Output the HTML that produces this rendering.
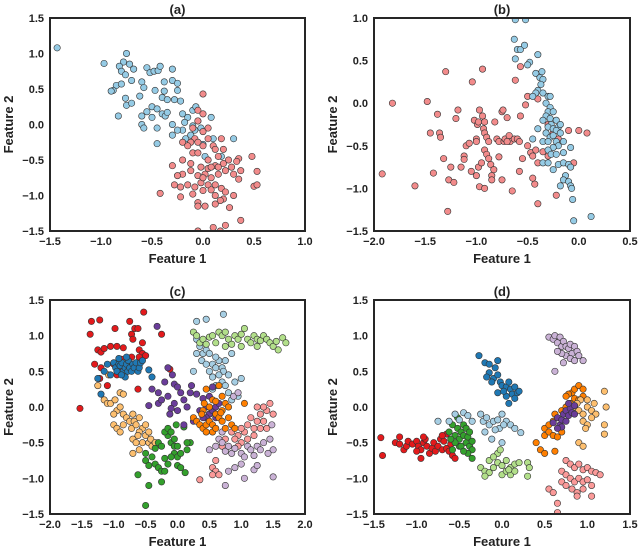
<!DOCTYPE html>
<html><head><meta charset="utf-8"><style>
html,body{margin:0;padding:0;background:#fff;}
svg{display:block;font-family:"Liberation Sans",Arial,sans-serif;}
.tk{font-size:11px;font-weight:bold;fill:#222;}
.lb{font-size:13px;font-weight:bold;fill:#222;}
</style></head><body>
<svg id="chart" width="640" height="549" viewBox="0 0 640 549"></svg>
<script>
// ---- Panel (a) data ----
const aBlue=[[-1.43,1.08],[-0.97,0.86],[-0.75,1.0],[-0.78,0.88],[-0.72,0.85],[-0.82,0.82],[-0.8,0.75],[-0.76,0.7],[-0.68,0.78],[-0.55,0.8],[-0.52,0.73],[-0.48,0.75],[-0.44,0.76],[-0.42,0.82],[-0.3,0.78],[-0.85,0.55],[-0.88,0.48],[-0.9,0.47],[-0.8,0.57],[-0.7,0.62],[-0.6,0.6],[-0.58,0.52],[-0.47,0.48],[-0.38,0.6],[-0.3,0.62],[-0.38,0.47],[-0.25,0.48],[-0.76,0.37],[-0.75,0.27],[-0.7,0.3],[-0.62,0.4],[-0.4,0.38],[-0.35,0.35],[-0.28,0.35],[-0.22,0.33],[-0.5,0.25],[-0.45,0.22],[-0.55,0.18],[-0.6,0.12],[-0.4,0.15],[-0.37,0.12],[-0.35,0.17],[-0.5,0.1],[-0.83,0.12],[-0.6,0.0],[-0.58,-0.05],[-0.45,-0.05],[-0.3,0.0],[-0.2,0.15],[-0.15,0.1],[-0.1,0.2],[-0.07,0.25],[-0.18,0.03],[-0.2,-0.08],[-0.25,-0.08],[-0.3,-0.15],[-0.17,-0.2],[-0.12,-0.15],[-0.08,-0.08],[-0.02,-0.05],[0.0,-0.28],[0.1,-0.2],[0.3,-0.2],[0.18,-0.45],[0.08,0.1],[-0.45,-0.27],[0.02,-0.45],[-0.05,0.05],[-0.1,-0.02],[-0.25,0.58]];
const aRed=[[0.0,0.43],[-0.05,0.2],[0.0,0.15],[-0.05,0.05],[-0.1,-0.05],[0.0,-0.1],[-0.08,-0.2],[-0.12,-0.25],[-0.05,-0.25],[0.0,-0.3],[0.05,-0.2],[-0.2,-0.25],[-0.15,-0.3],[0.1,-0.3],[0.18,-0.2],[0.12,-0.35],[0.2,-0.35],[-0.1,-0.4],[-0.05,-0.4],[0.25,-0.5],[0.35,-0.48],[0.48,-0.45],[0.15,-0.45],[0.05,-0.5],[-0.3,-0.58],[-0.2,-0.5],[-0.12,-0.55],[-0.02,-0.6],[0.05,-0.62],[0.12,-0.58],[0.2,-0.55],[0.28,-0.6],[0.33,-0.52],[0.37,-0.65],[0.53,-0.66],[-0.2,-0.7],[-0.12,-0.65],[-0.05,-0.72],[0.02,-0.7],[0.08,-0.75],[0.15,-0.7],[0.22,-0.65],[0.3,-0.7],[0.35,-0.77],[-0.28,-0.85],[-0.22,-0.88],[-0.15,-0.85],[-0.08,-0.88],[-0.02,-0.82],[0.05,-0.85],[0.12,-0.85],[0.18,-0.9],[0.22,-0.95],[0.5,-0.87],[0.53,-0.85],[-0.42,-0.97],[-0.22,-1.02],[-0.1,-0.98],[0.0,-0.93],[0.08,-0.92],[0.12,-1.0],[0.2,-1.05],[0.3,-1.0],[0.17,-1.07],[-0.05,-1.1],[0.02,-1.15],[0.12,-1.12],[0.26,-1.17],[-0.05,-1.15],[0.37,-1.35],[0.22,-1.42],[0.1,-1.45],[0.17,-1.5],[-0.05,-1.5],[0.05,-0.05],[0.08,-0.6],[0.0,-0.75],[-0.25,-0.72],[0.15,-0.6]];
// ---- Panel (b) data ----
const bBlue=[[-0.62,0.98],[-0.52,0.98],[-0.63,0.75],[-0.6,0.63],[-0.57,0.63],[-0.53,0.68],[-0.4,0.57],[-0.62,0.52],[-0.48,0.48],[-0.5,0.45],[-0.42,0.35],[-0.36,0.37],[-0.38,0.3],[-0.35,0.28],[-0.37,0.22],[-0.4,0.15],[-0.42,0.12],[-0.35,0.12],[-0.3,0.08],[-0.28,0.08],[-0.45,0.08],[-0.32,0.0],[-0.28,-0.05],[-0.3,-0.1],[-0.25,-0.1],[-0.32,-0.15],[-0.28,-0.18],[-0.22,-0.2],[-0.27,-0.25],[-0.3,-0.28],[-0.25,-0.3],[-0.2,-0.28],[-0.22,-0.32],[-0.18,-0.35],[-0.32,-0.35],[-0.28,-0.4],[-0.25,-0.38],[-0.35,-0.45],[-0.3,-0.45],[-0.22,-0.45],[-0.15,-0.45],[-0.2,-0.5],[-0.25,-0.52],[-0.3,-0.55],[-0.27,-0.6],[-0.22,-0.6],[-0.15,-0.58],[-0.08,-0.52],[-0.35,-0.7],[-0.3,-0.7],[-0.2,-0.72],[-0.15,-0.7],[-0.1,-0.72],[-0.08,-0.75],[-0.25,-0.78],[-0.13,-0.85],[-0.15,-0.9],[-0.1,-0.92],[-0.08,-0.97],[-0.18,-0.97],[-0.07,-1.0],[-0.06,-1.13],[-0.05,-1.38],[0.12,-1.33],[-0.45,-0.42],[-0.4,-0.3],[-0.35,-0.2],[-0.18,-0.25]];
const bRed=[[-1.92,-0.83],[-1.82,0.0],[-1.6,-0.97],[-1.48,0.02],[-1.45,-0.35],[-1.42,-0.82],[-1.38,-0.13],[-1.36,-0.35],[-1.35,-0.4],[-1.3,0.37],[-1.32,-0.65],[-1.28,-1.27],[-1.27,-0.9],[-1.25,-0.75],[-1.22,-0.93],[-1.2,-0.18],[-1.18,-0.08],[-1.15,-0.75],[-1.12,-0.62],[-1.12,-0.66],[-1.1,-0.5],[-1.07,-0.47],[-1.05,-0.8],[-1.04,0.25],[-1.02,-0.2],[-1.0,-0.42],[-1.0,-0.45],[-0.99,-0.25],[-0.98,-0.22],[-0.97,-0.98],[-0.98,-0.75],[-0.97,-0.08],[-0.95,-0.7],[-0.94,0.4],[-0.94,-0.15],[-0.93,-0.3],[-0.92,-0.35],[-0.92,-0.22],[-0.92,-0.55],[-0.9,-0.6],[-0.92,-1.0],[-0.9,-0.4],[-0.88,-0.65],[-0.86,-0.72],[-0.85,-0.85],[-0.83,-0.78],[-0.82,-0.22],[-0.8,-0.42],[-0.78,-0.63],[-0.78,-0.45],[-0.75,-0.1],[-0.74,-0.08],[-0.73,-0.45],[-0.75,-0.9],[-0.72,-0.42],[-0.7,-0.17],[-0.68,-0.38],[-0.67,-0.45],[-0.65,-1.03],[-0.63,-0.42],[-0.6,-0.42],[-0.58,-0.45],[-0.58,-0.8],[-0.57,-0.15],[-0.55,-0.65],[-0.62,0.27],[-0.57,0.43],[-0.52,-0.02],[-0.5,0.08],[-0.5,-0.5],[-0.47,-0.58],[-0.45,-0.88],[-0.43,-0.95],[-0.45,-0.62],[-0.42,-0.55],[-0.4,-0.7],[-0.4,0.05],[-0.4,-1.18],[-0.35,-0.57],[-0.3,-0.25],[-0.3,-0.62],[-0.25,-0.35],[-0.22,-1.08],[-0.2,-0.42],[-0.1,-0.32],[0.0,-0.32],[0.08,-0.35],[-0.05,-0.7],[-0.85,-0.9],[-0.7,-0.45],[-1.0,-0.85],[-0.88,-0.45]];
// ---- Panel (c) data ----
const cRed=[[-1.53,-0.02],[-1.37,1.02],[-1.35,1.2],[-1.22,1.22],[-1.3,0.6],[-1.25,0.8],[-1.2,0.77],[-1.2,0.55],[-1.22,0.4],[-1.1,0.3],[-1.15,0.82],[-1.05,0.85],[-0.98,1.1],[-0.95,0.85],[-1.0,0.6],[-0.95,0.45],[-0.9,0.5],[-0.85,0.55],[-0.88,0.67],[-0.85,0.83],[-0.75,1.2],[-0.72,1.02],[-0.7,0.95],[-0.67,1.1],[-0.62,1.1],[-0.6,0.8],[-0.55,0.9],[-0.53,1.33],[-0.55,0.75],[-0.6,0.7],[-0.6,0.6],[-0.72,0.7],[-0.62,0.25],[-0.5,0.72],[-0.25,1.02],[-0.12,0.53]];
const cBlue=[[-1.25,0.4],[-1.2,0.18],[-1.15,0.5],[-1.1,0.6],[-1.05,0.45],[-1.0,0.62],[-0.97,0.55],[-0.95,0.5],[-0.92,0.6],[-0.9,0.58],[-0.87,0.62],[-0.85,0.5],[-0.82,0.55],[-0.8,0.6],[-0.78,0.5],[-0.77,0.65],[-0.75,0.55],[-0.72,0.5],[-0.7,0.6],[-0.68,0.55],[-0.65,0.62],[-0.62,0.5],[-0.6,0.55],[-0.58,0.62],[-0.82,0.42],[-0.88,0.45],[-0.55,0.65],[-0.4,0.42],[-0.45,0.52],[-0.92,0.68],[-0.8,0.7]];
const cLtOrange=[[-1.25,0.3],[-1.15,0.1],[-1.1,0.05],[-1.05,0.05],[-0.98,0.1],[-0.9,0.2],[-0.85,0.18],[-0.95,-0.05],[-0.9,0.0],[-0.85,-0.1],[-0.8,-0.15],[-0.85,-0.25],[-0.75,-0.2],[-0.7,-0.1],[-0.68,-0.2],[-0.72,-0.3],[-0.65,-0.25],[-0.6,-0.15],[-0.55,-0.3],[-0.6,-0.35],[-0.5,-0.25],[-0.5,-0.4],[-0.45,-0.35],[-0.7,-0.45],[-0.65,-0.5],[-0.62,-0.4],[-0.55,-0.5],[-0.45,-0.5],[-0.4,-0.55],[-0.42,-0.45],[-0.35,-0.5],[-1.0,-0.25],[-0.95,-0.3],[-0.9,-0.35],[-0.7,-0.65],[-0.6,-0.6],[-1.08,0.45],[-1.0,-0.1]];
const cGreen=[[-0.5,-0.75],[-0.45,-0.82],[-0.5,-0.65],[-0.4,-0.7],[-0.35,-0.8],[-0.3,-0.85],[-0.25,-0.9],[-0.2,-0.9],[-0.35,-0.58],[-0.3,-0.5],[-0.25,-0.55],[-0.15,-0.4],[-0.1,-0.5],[-0.05,-0.55],[-0.2,-0.35],[-0.15,-0.3],[-0.1,-0.35],[-0.05,-0.45],[0.0,-0.55],[-0.05,-0.65],[0.0,-0.7],[0.05,-0.65],[0.0,-0.82],[0.05,-0.85],[0.12,-0.92],[-0.1,-0.7],[0.2,-0.5],[0.15,-0.5],[0.15,-0.6],[-0.62,-0.95],[-0.45,-1.1],[-0.25,-1.05],[-0.5,-1.38],[-0.02,-0.25],[0.1,-0.28],[-0.2,-0.72],[-0.15,-0.8]];
const cPurple=[[-0.32,1.13],[-0.15,0.55],[-0.08,0.45],[-0.05,0.32],[0.0,0.28],[0.05,0.2],[0.1,0.1],[-0.2,0.35],[-0.3,0.2],[-0.4,0.25],[-0.3,0.05],[-0.45,0.02],[-0.25,0.1],[-0.15,0.15],[-0.05,0.05],[0.0,-0.05],[-0.1,-0.02],[0.15,0.0],[0.2,0.2],[0.22,0.3],[0.3,0.18],[0.4,0.12],[0.45,0.0],[0.35,-0.05],[0.5,-0.1],[0.45,-0.15],[0.55,-0.05],[0.6,0.0],[0.65,0.05],[0.5,0.15],[0.6,-0.15],[0.4,-0.15],[-0.12,-0.1],[0.1,-0.25],[0.25,-0.2],[0.55,0.28]];
const cOrange=[[0.25,-0.15],[0.3,-0.2],[0.35,-0.25],[0.4,-0.3],[0.45,-0.25],[0.4,-0.05],[0.5,0.0],[0.55,0.1],[0.45,0.25],[0.5,-0.2],[0.55,-0.25],[0.6,-0.1],[0.65,-0.15],[0.7,-0.05],[0.75,0.05],[0.8,0.0],[0.7,-0.2],[0.75,-0.3],[0.8,-0.15],[0.85,-0.25],[0.55,-0.35],[0.6,-0.3],[0.38,-0.1],[0.42,0.05],[1.05,0.05],[0.9,-0.3],[0.7,0.15],[0.65,0.3],[0.45,-0.35],[0.6,0.08],[0.68,-0.08]];
const cLtBlue=[[0.3,1.2],[0.45,1.23],[0.72,1.3],[0.3,0.95],[0.35,0.85],[0.4,0.75],[0.45,0.8],[0.5,0.75],[0.3,0.75],[0.38,0.65],[0.45,0.6],[0.5,0.5],[0.55,0.6],[0.6,0.55],[0.65,0.65],[0.7,0.55],[0.75,0.65],[0.72,0.5],[0.8,0.45],[0.65,0.45],[0.6,0.7],[0.85,0.75],[0.7,0.35],[0.75,0.3],[0.8,0.2],[0.9,0.35],[1.0,0.4],[0.85,0.1],[0.95,0.15],[0.55,0.25],[0.6,0.3],[0.25,0.5],[0.55,0.42]];
const cLtGreen=[[0.25,1.05],[0.3,1.0],[0.35,0.9],[0.4,0.95],[0.45,0.88],[0.5,0.98],[0.55,1.0],[0.6,0.9],[0.65,1.05],[0.7,1.0],[0.75,1.05],[0.8,0.95],[0.85,0.88],[0.9,1.0],[0.95,0.95],[1.0,1.02],[1.05,1.1],[1.1,0.95],[1.15,0.9],[1.2,1.0],[1.25,0.95],[1.3,0.93],[1.35,1.0],[1.4,0.95],[1.45,0.9],[1.5,0.85],[1.55,0.92],[1.65,0.97],[1.7,0.9],[1.58,0.8],[1.25,0.85],[1.0,0.85],[0.75,0.85]];
const cPink=[[1.45,0.05],[1.5,-0.1],[1.4,-0.05],[1.35,-0.2],[1.3,-0.1],[1.25,-0.2],[1.2,-0.3],[1.15,-0.15],[1.1,-0.25],[1.05,-0.35],[1.0,-0.3],[0.95,-0.4],[0.9,-0.45],[0.85,-0.35],[1.0,-0.5],[0.95,-0.55],[1.1,-0.45],[1.2,-0.4],[1.3,-0.3],[1.4,-0.3],[0.75,-0.45],[0.7,-0.55],[0.6,-0.75],[0.55,-0.85],[0.6,-0.9],[0.55,-0.95],[0.35,-1.02],[0.65,-0.95],[1.35,0.0],[1.25,0.0]];
const cLavender=[[0.65,-0.45],[0.7,-0.5],[0.75,-0.62],[0.8,-0.55],[0.85,-0.65],[0.9,-0.58],[1.0,-0.65],[1.05,-0.7],[1.1,-0.55],[1.15,-0.6],[1.2,-0.68],[1.25,-0.55],[1.3,-0.6],[1.35,-0.5],[1.45,-0.45],[1.5,-0.6],[1.48,-0.25],[1.42,-0.65],[1.2,-0.88],[1.25,-0.82],[1.0,-0.8],[0.9,-0.85],[0.8,-0.9],[1.05,-1.0],[0.75,-1.1],[1.5,-0.98],[0.6,-0.55],[0.5,-0.6],[0.88,0.15],[0.95,0.2],[0.5,-0.1],[0.7,-0.35]];
// ---- Panel (d) data ----
const dRed=[[-1.42,-0.43],[-1.4,-0.68],[-1.25,-0.5],[-1.2,-0.52],[-1.2,-0.42],[-1.15,-0.6],[-1.12,-0.55],[-1.1,-0.48],[-1.05,-0.52],[-1.0,-0.48],[-0.98,-0.55],[-0.95,-0.6],[-0.92,-0.5],[-0.9,-0.45],[-0.88,-0.55],[-0.85,-0.65],[-0.82,-0.58],[-0.8,-0.5],[-0.78,-0.62],[-0.75,-0.55],[-0.72,-0.45],[-0.7,-0.6],[-0.68,-0.48],[-0.65,-0.58],[-0.62,-0.62],[-0.6,-0.52],[-0.58,-0.68],[-0.55,-0.72],[-0.92,-0.42],[-0.95,-0.72],[-1.0,-0.62],[-0.65,-0.38],[-0.7,-0.4]];
const dGreen=[[-0.62,-0.35],[-0.58,-0.25],[-0.55,-0.4],[-0.52,-0.3],[-0.5,-0.45],[-0.48,-0.35],[-0.45,-0.4],[-0.42,-0.5],[-0.4,-0.42],[-0.38,-0.55],[-0.35,-0.6],[-0.45,-0.25],[-0.5,-0.55],[-0.55,-0.5],[-0.42,-0.3],[-0.38,-0.35],[-0.35,-0.48],[-0.6,-0.45],[-0.52,-0.15],[-0.48,-0.55],[-0.4,-0.65],[-0.58,-0.6],[-0.45,-0.62],[-0.35,-0.72]];
const dBlue=[[-0.27,0.72],[-0.2,0.62],[-0.15,0.6],[-0.05,0.65],[-0.08,0.55],[-0.15,0.48],[-0.1,0.4],[-0.05,0.45],[-0.12,0.35],[-0.18,0.42],[-0.02,0.35],[0.0,0.3],[0.05,0.28],[0.08,0.35],[0.1,0.25],[0.05,0.15],[0.12,0.18],[0.15,0.28],[0.18,0.2],[0.2,0.22],[-0.05,0.2],[0.02,0.22],[0.08,0.05],[0.15,0.12]];
const dLtBlue=[[-0.75,-0.2],[-0.62,-0.2],[-0.55,-0.1],[-0.5,-0.18],[-0.45,-0.08],[-0.4,-0.12],[-0.35,-0.2],[-0.25,-0.1],[-0.22,-0.2],[-0.18,-0.15],[-0.15,-0.25],[-0.1,-0.2],[-0.05,-0.18],[0.0,-0.1],[-0.03,-0.3],[0.05,-0.2],[0.1,-0.25],[0.15,-0.3],[-0.12,-0.45],[0.0,-0.5],[-0.2,-0.35],[0.22,-0.36],[-0.08,-0.32],[0.02,-0.25]];
const dLtGreen=[[-0.05,-0.65],[-0.15,-0.75],[-0.1,-0.7],[-0.05,-0.78],[0.0,-0.82],[0.05,-0.75],[0.1,-0.85],[0.15,-0.8],[0.2,-0.78],[-0.25,-0.85],[-0.2,-0.9],[-0.15,-0.92],[-0.1,-0.85],[0.0,-0.95],[0.05,-0.9],[0.1,-0.95],[0.15,-0.9],[-0.2,-0.97],[0.3,-0.78],[0.32,-0.85],[0.3,-0.97],[-0.02,-0.6],[0.08,-0.88]];
const dLavender=[[0.55,0.98],[0.6,0.95],[0.62,1.0],[0.65,0.9],[0.68,0.98],[0.7,0.85],[0.72,0.92],[0.75,0.85],[0.78,0.82],[0.8,0.88],[0.85,0.85],[0.82,0.75],[0.88,0.78],[0.9,0.72],[0.75,0.72],[0.7,0.75],[0.65,0.78],[0.72,0.62],[0.8,0.68],[0.85,0.65],[0.95,0.65],[0.62,0.5]];
const dOrange=[[0.4,-0.5],[0.45,-0.6],[0.5,-0.4],[0.5,-0.3],[0.55,-0.35],[0.6,-0.4],[0.65,-0.42],[0.55,-0.25],[0.6,-0.2],[0.62,-0.1],[0.7,-0.05],[0.75,0.0],[0.8,0.05],[0.85,0.12],[0.82,0.2],[0.78,0.18],[0.75,0.15],[0.85,0.25],[0.9,0.3],[0.95,0.25],[0.9,0.1],[0.95,0.15],[0.7,-0.35],[0.62,-0.62],[0.5,-0.65]];
const dPurple=[[0.6,-0.22],[0.65,-0.15],[0.68,-0.25],[0.7,-0.18],[0.72,-0.1],[0.75,-0.2],[0.75,-0.05],[0.78,-0.12],[0.8,-0.02],[0.82,-0.08],[0.85,0.02],[0.78,0.05],[0.7,-0.28],[0.65,-0.3],[0.85,-0.1]];
const dLtOrange=[[0.85,0.0],[0.9,-0.05],[0.95,-0.1],[1.0,0.0],[1.05,-0.05],[1.1,-0.1],[0.95,-0.2],[1.0,-0.25],[1.05,-0.15],[0.92,0.1],[1.0,0.1],[1.08,0.05],[0.98,-0.3],[1.2,0.22],[1.22,0.0],[1.2,-0.25],[1.2,-0.38],[0.9,-0.5],[0.95,-0.55],[0.88,0.05]];
const dPink=[[0.75,-0.75],[0.8,-0.8],[0.85,-0.85],[0.9,-0.8],[0.95,-0.88],[1.0,-0.85],[1.05,-0.9],[1.1,-0.92],[1.15,-0.95],[0.7,-0.9],[0.75,-0.95],[0.8,-1.0],[0.85,-1.05],[0.9,-1.0],[0.95,-1.05],[1.0,-1.02],[0.7,-1.05],[0.75,-1.1],[0.82,-1.15],[0.88,-1.2],[0.95,-1.15],[1.05,-1.1],[0.88,-1.25],[1.05,-1.25],[0.55,-1.15],[0.65,-1.35],[0.65,-1.48],[0.6,-1.2]];
// tick labels
const aXTicks=[-1.5,-1.0,-0.5,0.0,0.5,1.0];
const bXTicks=[-2.0,-1.5,-1.0,-0.5,0.0,0.5];
const cXTicks=[-2.0,-1.5,-1.0,-0.5,0.0,0.5,1.0,1.5,2.0];
const dXTicks=[-1.5,-1.0,-0.5,0.0,0.5,1.0,1.5];
const y3Ticks=[-1.5,-1.0,-0.5,0.0,0.5,1.0,1.5];
const bYTicks=[-1.5,-1.0,-0.5,0.0,0.5,1.0];

const NS="http://www.w3.org/2000/svg";
const svg=document.getElementById('chart');
function mk(tag,attrs,parent){const e=document.createElementNS(NS,tag);for(const k in attrs)e.setAttribute(k,attrs[k]);(parent||svg).appendChild(e);return e;}
function fmt(v){return (v<0?'\u2212':'')+Math.abs(v).toFixed(1);}

const panels=[
 {id:'a',title:'(a)',x0:50,x1:305,y0:18,y1:231,xt:aXTicks,yt:y3Ticks,series:[['blue',aBlue,'#95cbe5'],['red',aRed,'#f28b8b']]},
 {id:'b',title:'(b)',x0:374,x1:630,y0:18,y1:231,xt:bXTicks,yt:bYTicks,series:[['red',bRed,'#f28b8b'],['blue',bBlue,'#95cbe5']]},
 {id:'c',title:'(c)',x0:50,x1:305,y0:300,y1:514,xt:cXTicks,yt:y3Ticks,series:[['light-orange',cLtOrange,'#fdbf6f'],['red',cRed,'#e31a1c'],['blue',cBlue,'#1f78b4'],['light-blue',cLtBlue,'#a6cee3'],['light-green',cLtGreen,'#b2df8a'],['pink',cPink,'#fb9a99'],['lavender',cLavender,'#cab2d6'],['green',cGreen,'#33a02c'],['purple',cPurple,'#6a3d9a'],['orange',cOrange,'#ff7f00']]},
 {id:'d',title:'(d)',x0:374,x1:630,y0:300,y1:514,xt:dXTicks,yt:y3Ticks,series:[['red',dRed,'#e31a1c'],['green',dGreen,'#33a02c'],['blue',dBlue,'#1f78b4'],['light-blue',dLtBlue,'#a6cee3'],['light-green',dLtGreen,'#b2df8a'],['lavender',dLavender,'#cab2d6'],['orange',dOrange,'#ff7f00'],['light-orange',dLtOrange,'#fdbf6f'],['purple',dPurple,'#6a3d9a'],['pink',dPink,'#fb9a99']]}
];

panels.forEach(p=>{
 const g=mk('g',{});
 
 
 const xmin=p.xt[0],xmax=p.xt[p.xt.length-1],ymin=p.yt[0],ymax=p.yt[p.yt.length-1];
 const sx=v=>p.x0+(v-xmin)/(xmax-xmin)*(p.x1-p.x0);
 const sy=v=>p.y1-(v-ymin)/(ymax-ymin)*(p.y1-p.y0);
 const cp=mk('clipPath',{id:'clip-'+p.id},g);
 mk('rect',{x:p.x0,y:p.y0,width:p.x1-p.x0,height:p.y1-p.y0},cp);
 const pts=mk('g',{'clip-path':'url(#clip-'+p.id+')'},g);
 
 
 p.series.forEach(s=>{
  const sg=mk('g',{},pts);
  
  
  s[1].forEach(d=>{
   const c=mk('circle',{cx:sx(d[0]),cy:sy(d[1]),r:3.2,fill:s[2],stroke:'#333','stroke-width':0.6},sg);
   
   
  });
 });
 const fr=mk('rect',{x:p.x0,y:p.y0,width:p.x1-p.x0,height:p.y1-p.y0,fill:'none',stroke:'#262626','stroke-width':2},g);
 
 
 p.xt.forEach(v=>{
  const t=mk('text',{x:sx(v),y:p.y1+14,'text-anchor':'middle',class:'tk'},g);
  t.textContent=fmt(v);
  
  
 });
 p.yt.forEach(v=>{
  const t=mk('text',{x:p.x0-6,y:sy(v)+4,'text-anchor':'end',class:'tk'},g);
  t.textContent=fmt(v);
  
  
 });
 const ti=mk('text',{x:(p.x0+p.x1)/2,y:p.y0-4,'text-anchor':'middle',class:'lb'},g);
 ti.textContent=p.title;
 
 
 const xl=mk('text',{x:(p.x0+p.x1)/2,y:p.y1+32,'text-anchor':'middle',class:'lb'},g);
 xl.textContent='Feature 1';
 
 
 const yc=(p.y0+p.y1)/2, yx=p.x0-37;
 const yl=mk('text',{x:yx,y:yc,'text-anchor':'middle',class:'lb',transform:'rotate(-90 '+yx+' '+yc+')'},g);
 yl.textContent='Feature 2';
 
 
});
</script>
</body></html>
